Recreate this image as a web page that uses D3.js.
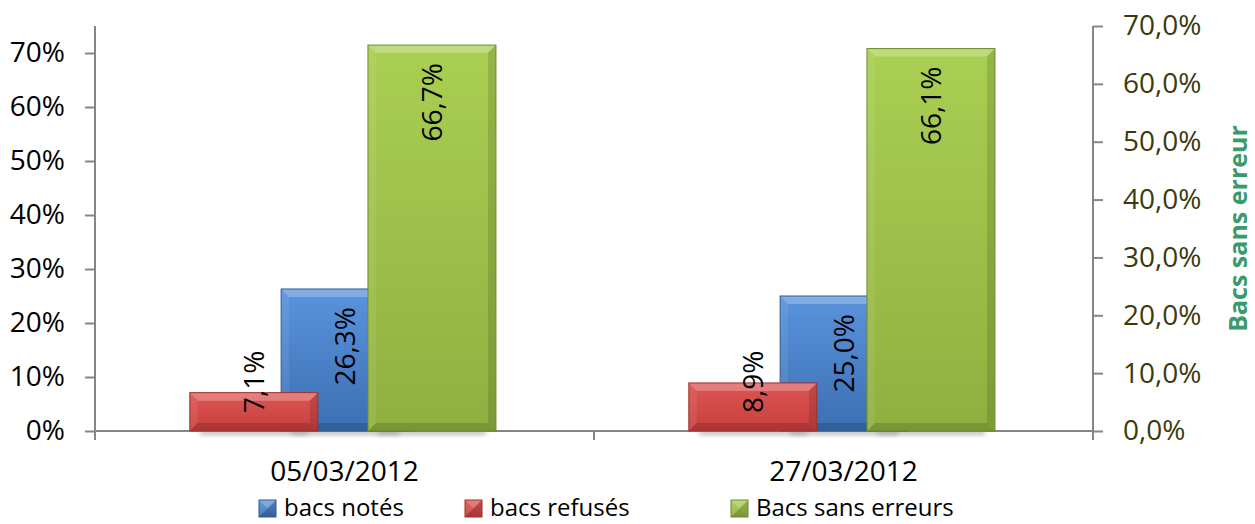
<!DOCTYPE html>
<html>
<head>
<meta charset="utf-8">
<script src="https://cdn.jsdelivr.net/npm/d3@7/dist/d3.min.js"></script>
<style>
  body { margin: 0; background: #fff; }
  text { font-family: 'Open Sans', sans-serif; }
</style>
</head>
<body>
<div class="canvas"></div>
<script>
// data
const categories = ['05/03/2012', '27/03/2012'];
const seriesNames = ['bacs notés', 'bacs refusés', 'Bacs sans erreurs'];
const bacsNotes = [0.263, 0.25];
const bacsRefuses = [0.071, 0.089];
const bacsSansErreurs = [0.667, 0.661];
const leftTicks = [0, 0.1, 0.2, 0.3, 0.4, 0.5, 0.6, 0.7];
const rightTicks = [0, 0.1, 0.2, 0.3, 0.4, 0.5, 0.6, 0.7];
const rightTitle = 'Bacs sans erreur';

const W = 1255, H = 524;
const svg = d3.select('.canvas').append('svg')
  .attr('width', W).attr('height', H);

/*--------------------------------
  SETUP
--------------------------------*/
const plot = { left: 95, right: 1093, top: 26, bottom: 431 };
const axisColor = '#868686';

const x = d3.scaleBand().domain(categories).range([plot.left, plot.right]);
const yLeft = d3.scaleLinear().domain([0, 0.75]).range([plot.bottom, plot.top]);
const yRight = d3.scaleLinear().domain([0, 0.7]).range([plot.bottom, plot.top]);

const fmtLeft = d => `${Math.round(d * 100)}%`;
const fmtComma = d => `${(d * 100).toFixed(1).replace('.', ',')}%`;

// series: draw order blue, red, then green (secondary axis) on top
const series = [
  { name: seriesNames[0], values: bacsNotes, y: yLeft, offset: 0.373, c: ['#5a93dc', '#3c6fb3', '#2f5a94'] },
  { name: seriesNames[1], values: bacsRefuses, y: yLeft, offset: 0.19, c: ['#dd5553', '#c7403e', '#9e302e'] },
  { name: seriesNames[2], values: bacsSansErreurs, y: yRight, offset: 0.547, c: ['#a9cf52', '#8fb040', '#6f8a2c'] },
];
const barFrac = 0.2565;

const defs = svg.append('defs');
series.forEach((s, i) => {
  const g = defs.append('linearGradient').attr('id', `grad${i}`)
    .attr('x1', 0).attr('y1', 0).attr('x2', 0).attr('y2', 1);
  g.append('stop').attr('offset', '0%').attr('stop-color', s.c[0]);
  g.append('stop').attr('offset', '100%').attr('stop-color', s.c[1]);
});
defs.append('filter').attr('id', 'shadow')
  .attr('x', '-20%').attr('y', '-50%').attr('width', '140%').attr('height', '200%')
  .append('feGaussianBlur').attr('stdDeviation', 2.5);

// axes
const leftAxis = svg.append('g').attr('transform', `translate(${plot.left},0)`)
  .call(d3.axisLeft(yLeft).tickValues(leftTicks).tickFormat(fmtLeft).tickSize(10).tickPadding(20));
const rightAxis = svg.append('g').attr('transform', `translate(${plot.right},0)`)
  .call(d3.axisRight(yRight).tickValues(rightTicks).tickFormat(fmtComma).tickSize(10).tickPadding(20));
[leftAxis, rightAxis].forEach(a => {
  a.select('.domain').remove();
  a.selectAll('line').attr('stroke', axisColor).attr('stroke-width', 2);
  a.selectAll('text').attr('font-size', 28);
});
leftAxis.selectAll('text').attr('fill', '#000');
rightAxis.selectAll('text').attr('fill', '#3b3a0c');

svg.append('line').attr('x1', plot.left).attr('x2', plot.left)
  .attr('y1', plot.top).attr('y2', plot.bottom + 9)
  .attr('stroke', axisColor).attr('stroke-width', 2);
svg.append('line').attr('x1', plot.right).attr('x2', plot.right)
  .attr('y1', plot.top).attr('y2', plot.bottom + 9)
  .attr('stroke', axisColor).attr('stroke-width', 2);

const xAxis = svg.append('g').attr('transform', `translate(0,${plot.bottom})`)
  .call(d3.axisBottom(x).tickSize(0).tickPadding(30));
xAxis.select('.domain').remove();
xAxis.selectAll('text').attr('font-size', 28).attr('fill', '#000');
const xTicks = [plot.left, ...categories.map(c => x(c) + x.bandwidth())];
svg.selectAll('.xtick').data(xTicks).enter().append('line')
  .attr('x1', d => d).attr('x2', d => d)
  .attr('y1', plot.bottom).attr('y2', plot.bottom + 9)
  .attr('stroke', axisColor).attr('stroke-width', 2);

/*--------------------------------
  BARS
--------------------------------*/
const bw = x.bandwidth() * barFrac;
const bevel = 8;

// shadows
series.forEach((s) => {
  svg.append('g').selectAll('rect').data(s.values).enter().append('rect')
    .attr('x', (d, j) => x(categories[j]) + x.bandwidth() * s.offset + 10)
    .attr('width', bw - 20)
    .attr('y', plot.bottom - 2).attr('height', 6)
    .attr('fill', '#999').attr('opacity', 0.6)
    .attr('filter', 'url(#shadow)');
});

svg.append('line').attr('x1', plot.left).attr('x2', plot.right)
  .attr('y1', plot.bottom).attr('y2', plot.bottom)
  .attr('stroke', axisColor).attr('stroke-width', 2);

const drawBevelBar = (g, x0, y0, w, h, s, i) => {
  const x1 = x0 + w, y1 = y0 + h;
  const b = Math.min(bevel, h / 2, w / 2);
  g.append('rect').attr('x', x0).attr('y', y0).attr('width', w).attr('height', h)
    .attr('fill', `url(#grad${i})`);
  // top bevel (light)
  g.append('polygon')
    .attr('points', [[x0, y0], [x1, y0], [x1 - b, y0 + b], [x0 + b, y0 + b]].join(' '))
    .attr('fill', '#fff').attr('opacity', 0.25);
  // left bevel
  g.append('polygon')
    .attr('points', [[x0, y0], [x0 + b, y0 + b], [x0 + b, y1 - b], [x0, y1]].join(' '))
    .attr('fill', '#fff').attr('opacity', 0.08);
  // right bevel (dark)
  g.append('polygon')
    .attr('points', [[x1, y0], [x1, y1], [x1 - b, y1 - b], [x1 - b, y0 + b]].join(' '))
    .attr('fill', '#000').attr('opacity', 0.12);
  // bottom bevel (dark)
  g.append('polygon')
    .attr('points', [[x0, y1], [x0 + b, y1 - b], [x1 - b, y1 - b], [x1, y1]].join(' '))
    .attr('fill', '#000').attr('opacity', 0.15);
  g.append('rect').attr('x', x0).attr('y', y0).attr('width', w).attr('height', h)
    .attr('fill', 'none').attr('stroke', s.c[2]).attr('stroke-width', 1);
};

series.forEach((s, i) => {
  const g = svg.append('g');
  s.values.forEach((v, j) => {
    const bx = x(categories[j]) + x.bandwidth() * s.offset;
    const by = s.y(v);
    drawBevelBar(g, bx, by, bw, plot.bottom - by, s, i);
  });
});

// data labels (rotated, inside end; anchored near base when the bar is short)
series.forEach((s) => {
  s.values.forEach((v, j) => {
    const cx = x(categories[j]) + x.bandwidth() * s.offset + bw / 2;
    const top = s.y(v);
    const short = plot.bottom - top < 110;
    const ty = short ? plot.bottom - 18 : top + 18;
    svg.append('text')
      .attr('transform', `translate(${cx + 10},${ty}) rotate(-90)`)
      .attr('text-anchor', short ? 'start' : 'end')
      .attr('font-size', 28).attr('fill', '#000')
      .text(fmtComma(v));
  });
});

// right axis title
svg.append('text')
  .attr('transform', `translate(1247,${(plot.top + plot.bottom) / 2}) rotate(-90)`)
  .attr('text-anchor', 'middle').attr('font-size', 25).attr('font-weight', 'bold')
  .attr('fill', '#3a9a6c')
  .text(rightTitle);

/*--------------------------------
  LEGEND
--------------------------------*/
const legendX = [259, 465, 731];
const legend = svg.append('g');
series.forEach((s, i) => {
  const lg = legend.append('g').attr('transform', `translate(${legendX[i]},500)`);
  drawBevelBar(lg, 0, 0, 17, 17, s, i);
  lg.append('text').attr('x', 25).attr('y', 16)
    .attr('font-size', 24).attr('fill', '#000').text(s.name);
});
</script>
</body>
</html>
